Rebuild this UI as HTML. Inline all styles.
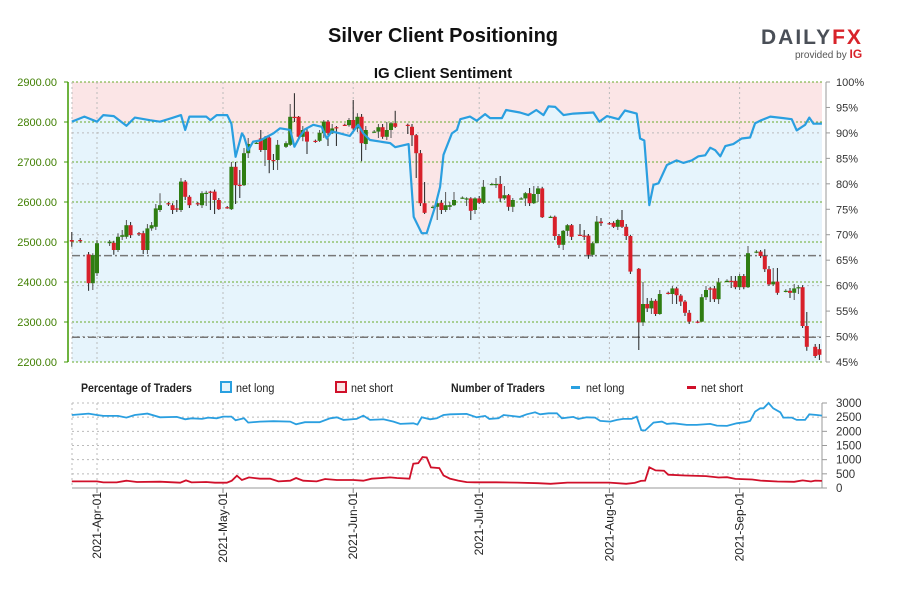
<!DOCTYPE html>
<html><head><meta charset="utf-8">
<style>
html,body{margin:0;padding:0;background:#fff;width:900px;height:600px;overflow:hidden;font-family:"Liberation Sans",sans-serif}
svg text{font-family:"Liberation Sans",sans-serif}
</style></head>
<body>
<svg id="chart" width="900" height="600" viewBox="0 0 900 600" xmlns="http://www.w3.org/2000/svg">
<rect width="900" height="600" fill="#fff"/>
<text x="443" y="42" text-anchor="middle" font-size="20" font-weight="bold" fill="#111">Silver Client Positioning</text>
<text x="443" y="78" text-anchor="middle" font-size="15" font-weight="bold" fill="#111">IG Client Sentiment</text>
<g>
<text x="761" y="44" font-size="21" font-weight="bold" fill="#4a4f57" letter-spacing="2">DAILY<tspan fill="#d8232a">FX</tspan></text>
<text x="795" y="58" font-size="10" fill="#555">provided by <tspan fill="#d8232a" font-weight="bold" font-size="12">IG</tspan></text>
</g>
<g id="main"></g>
<g id="lower"></g>
<g font-size="12" fill="#222">
<text x="81" y="392" font-weight="bold" transform="translate(81 0) scale(0.88 1) translate(-81 0)">Percentage of Traders</text>
<rect x="221" y="382" width="10" height="10" fill="#e5f3fb" stroke="#29a0e0" stroke-width="2"/>
<text x="236" y="392" transform="translate(236 0) scale(0.9 1) translate(-236 0)">net long</text>
<rect x="336" y="382" width="10" height="10" fill="#fbe5e5" stroke="#d0102a" stroke-width="2"/>
<text x="351" y="392" transform="translate(351 0) scale(0.9 1) translate(-351 0)">net short</text>
<text x="451" y="392" font-weight="bold" transform="translate(451 0) scale(0.88 1) translate(-451 0)">Number of Traders</text>
<rect x="571" y="386" width="9" height="3" fill="#29a0e0"/>
<text x="586" y="392" transform="translate(586 0) scale(0.9 1) translate(-586 0)">net long</text>
<rect x="687" y="386" width="9" height="3" fill="#d0102a"/>
<text x="701" y="392" transform="translate(701 0) scale(0.9 1) translate(-701 0)">net short</text>
</g>
</svg>
<script>
const priceTicks=[2900,2800,2700,2600,2500,2400,2300,2200];
const pctTicks=[100,95,90,85,80,75,70,65,60,55,50,45];
const cntTicks=[3000,2500,2000,1500,1000,500,0];
const monthDays=[0,30,61,91,122,153];
const monthLabels=["2021-Apr-01","2021-May-01","2021-Jun-01","2021-Jul-01","2021-Aug-01","2021-Sep-01"];
const refLevels=[2466,2262];
const cDays=[-6,-4,-2,-1,0,3,4,5,6,7,8,10,11,12,13,14,15,17,18,19,20,21,22,24,25,26,27,28,29,31,32,33,34,35,36,38,39,40,41,42,43,45,46,47,48,49,50,52,53,54,55,56,57,59,60,61,62,63,64,66,67,68,69,70,71,74,75,76,77,78,80,81,82,83,84,85,87,88,89,90,91,92,94,95,96,97,98,99,101,102,103,104,105,106,108,109,110,111,112,113,115,116,117,118,119,120,122,123,124,125,126,127,129,130,131,132,133,134,136,137,138,139,140,141,143,144,145,146,147,148,150,151,152,153,154,155,157,158,159,160,161,162,164,165,166,167,168,169,171,172];
const cOpen=[2505,2505,2469,2397,2422,2497,2498,2480,2513,2513,2542,2522,2522,2480,2534,2538,2580,2597,2592,2584,2580,2651,2613,2597,2592,2622,2626,2626,2605,2587,2582,2688,2643,2642,2722,2748,2759,2730,2761,2705,2705,2738,2743,2813,2813,2763,2776,2753,2753,2772,2801,2772,2787,2793,2792,2805,2784,2813,2745,2776,2776,2787,2763,2780,2797,2793,2788,2767,2722,2597,2588,2588,2598,2580,2588,2592,2611,2609,2609,2580,2609,2598,2645,2643,2645,2609,2617,2588,2609,2609,2622,2597,2620,2634,2563,2563,2515,2493,2528,2542,2518,2516,2516,2468,2497,2551,2547,2548,2538,2555,2538,2515,2433,2299,2345,2334,2353,2320,2373,2370,2384,2366,2351,2323,2301,2301,2362,2384,2384,2357,2403,2403,2403,2387,2415,2387,2476,2476,2465,2432,2394,2401,2378,2378,2373,2384,2387,2290,2238,2232];
const cClose=[2501,2503,2397,2467,2497,2501,2480,2513,2517,2542,2517,2520,2480,2534,2542,2584,2592,2594,2580,2583,2651,2613,2592,2595,2622,2623,2625,2605,2582,2586,2688,2642,2642,2722,2745,2748,2730,2761,2705,2704,2743,2747,2813,2812,2763,2780,2751,2752,2773,2801,2772,2784,2786,2792,2805,2784,2813,2747,2780,2776,2787,2763,2780,2797,2788,2792,2767,2722,2597,2573,2588,2597,2580,2592,2592,2605,2611,2609,2578,2609,2598,2638,2645,2645,2609,2617,2588,2605,2609,2622,2597,2620,2634,2562,2563,2515,2493,2528,2542,2513,2517,2515,2468,2497,2551,2547,2546,2538,2555,2538,2515,2426,2299,2345,2334,2353,2320,2370,2372,2384,2367,2351,2323,2301,2300,2362,2380,2383,2357,2399,2403,2402,2387,2415,2387,2472,2476,2465,2432,2394,2401,2373,2378,2373,2384,2387,2290,2238,2215,2218];
const cHigh=[2525,2510,2475,2472,2505,2505,2503,2522,2530,2555,2550,2525,2528,2545,2550,2595,2622,2600,2597,2605,2660,2655,2617,2600,2627,2628,2628,2631,2610,2590,2700,2700,2680,2735,2760,2752,2780,2765,2765,2720,2755,2752,2845,2872,2815,2790,2785,2756,2780,2805,2805,2795,2790,2796,2810,2855,2822,2820,2790,2780,2795,2795,2800,2800,2828,2796,2795,2770,2730,2650,2592,2605,2605,2625,2600,2625,2614,2612,2612,2612,2615,2655,2648,2660,2665,2640,2620,2610,2612,2625,2635,2640,2640,2638,2566,2566,2520,2530,2545,2545,2545,2530,2520,2500,2565,2560,2550,2552,2558,2580,2545,2518,2435,2400,2360,2360,2357,2380,2376,2390,2388,2370,2355,2330,2304,2370,2390,2388,2390,2410,2407,2415,2415,2420,2420,2490,2480,2480,2482,2440,2435,2435,2382,2385,2395,2392,2392,2325,2245,2245];
const cLow=[2488,2498,2378,2380,2415,2490,2468,2475,2505,2508,2510,2515,2470,2470,2528,2530,2575,2590,2570,2575,2575,2605,2585,2590,2585,2590,2580,2570,2580,2583,2580,2595,2610,2640,2710,2745,2725,2690,2672,2680,2680,2735,2740,2800,2760,2752,2720,2748,2750,2760,2740,2770,2740,2790,2788,2780,2775,2702,2730,2773,2760,2758,2755,2760,2785,2770,2740,2660,2590,2570,2584,2555,2570,2575,2580,2590,2608,2590,2555,2570,2595,2595,2642,2635,2600,2605,2578,2575,2606,2590,2590,2595,2600,2560,2560,2505,2485,2480,2515,2505,2515,2505,2458,2463,2497,2540,2543,2535,2530,2535,2505,2420,2230,2290,2325,2320,2315,2318,2369,2345,2345,2340,2315,2295,2297,2300,2355,2350,2350,2345,2399,2385,2382,2380,2382,2385,2472,2460,2425,2390,2390,2368,2374,2360,2355,2370,2285,2228,2210,2205];
const sDays=[-6,-3,0,1.5,4,7,9,12.6,15,17.8,20,21,22,26,27,28.5,31,32,33,34.5,35,36,37.2,38.8,42,43.6,46,47,48.3,49.5,51.5,53.5,54.7,55.9,57.9,60.2,62.2,63.4,65,67.4,69.8,71,74.2,75.4,77.3,78.5,80.5,81.7,82.5,84.5,85.7,86.5,88.8,90.4,92.4,93.6,96.4,97.4,100.7,102.7,104.6,106.3,107.5,109.1,111.1,113.4,118.2,119.6,121.4,124.2,125.7,128.5,129.3,130.3,131.5,132.5,133.7,135.7,138,139.6,141.6,143.2,144.8,146,147.2,148.4,149.6,151.5,153.5,155.5,156.7,157.9,160.3,163.4,165.4,166.6,168.6,169.6,170.6,172.6];
const sLongPct=[92.2,93.2,92.2,93.5,93.3,91.4,93.0,92.5,92.2,92.9,93.5,90.6,93.2,93.2,92.5,93.5,93.5,91.8,85.3,89.9,89.3,86.6,88.3,88.5,89.9,90.9,90.6,87.3,89.3,90.7,91.6,91.2,88.9,90.3,89.9,89.4,91.6,89.9,88.6,88.3,88.0,87.2,87.8,73.5,70.3,70.3,75.5,79.4,85.7,89.9,90.6,92.7,93.2,92.4,93.7,92.9,92.9,94.5,94.0,93.5,94.5,93.5,95.2,95.1,93.5,93.8,94.0,92.2,93.3,92.7,94.4,93.8,88.9,88.5,75.8,79.8,80.1,83.7,84.6,84.1,84.6,85.4,85.6,87.1,86.6,85.4,87.4,87.8,88.9,89.1,91.9,92.4,93.2,92.9,92.7,90.5,91.6,93.0,91.8,91.8];
const nlDays=[-6,-2,0,1.5,5,7,9,12,15,19,21,22.5,25,26.5,28.5,30,32,33,35,36,38.8,42,46,47.4,49.5,53,55.5,57.1,58.7,61.8,63.4,65,68.2,70.6,72.2,75.3,76.3,77.3,79.3,80.9,82.5,84.1,88,90.4,92.4,93.4,95.6,96.8,100.7,102.3,104.3,105.5,107.5,109.5,110.7,113.4,114.6,116.6,118.6,119.8,122.2,123.8,125.3,127.3,128.5,129.6,130.5,132.5,134.5,135.7,137.3,140.4,142.8,146,147.6,150,152.3,154.3,155.5,156.7,157.9,158.7,159.9,161,162.7,163.4,165.4,166.6,168.6,169.6,171.4,172.6];
const nlCount=[2578,2625,2578,2543,2543,2485,2578,2625,2496,2508,2426,2461,2438,2485,2461,2520,2520,2391,2461,2309,2344,2356,2344,2250,2321,2321,2461,2496,2403,2438,2555,2403,2426,2344,2262,2285,2239,2496,2426,2461,2578,2602,2614,2496,2543,2438,2461,2578,2508,2602,2672,2602,2637,2637,2461,2508,2438,2496,2485,2367,2344,2403,2438,2438,2520,2039,2028,2309,2344,2262,2285,2227,2227,2262,2203,2192,2285,2321,2367,2696,2813,2813,3000,2813,2672,2485,2485,2403,2403,2602,2578,2555];
const nsDays=[-6,0,1.5,4.7,7,9.5,15,19.8,21.2,22.5,26,28.1,30.9,32.1,33.3,34.5,36.2,38.8,41.2,43.2,46,47.4,49.1,52.3,54.3,57.1,61,63.4,65.4,69.8,71.4,74.4,75.3,76.5,77.5,78.5,79.5,81.5,82.5,84,86,88,90,95,100,105,108,112,118,122,126,128,129.5,130.5,131.5,133,135,136,140,145,148,150,152,156,158,162,166,168,170,171,172.6];
const nsCount=[234,234,199,199,258,211,223,188,270,199,211,188,188,258,434,281,375,328,328,234,258,352,258,234,316,281,281,258,328,375,352,328,856,879,1090,1078,727,703,445,330,260,210,200,200,190,170,150,190,190,190,150,180,250,260,730,620,610,470,440,420,370,380,320,300,260,230,220,270,230,260,250];

const NS='http://www.w3.org/2000/svg';
const X0=72,X1=822,Y0=82,Y1=362,LY0=403,LY1=488;
function xDay(d){return 97+d*4.2;}
function yPrice(p){return Y0+(2900-p)*(Y1-Y0)/700;}
function yPct(p){return Y0+(100-p)*(Y1-Y0)/55;}
function yCnt(v){return LY1-v*(LY1-LY0)/3000;}
function mk(tag,attrs,parent){const e=document.createElementNS(NS,tag);for(const k in attrs)e.setAttribute(k,attrs[k]);parent.appendChild(e);return e;}
const main=document.getElementById('main'),lower=document.getElementById('lower');

// backgrounds
let bg=mk('rect',{x:X0,y:Y0,width:X1-X0,height:Y1-Y0,fill:'#fbe5e6'},main);


let pts=sDays.map((d,i)=>xDay(d).toFixed(1)+','+yPct(sLongPct[i]).toFixed(1));
let area=mk('polygon',{points:pts.join(' ')+' '+xDay(sDays[sDays.length-1]).toFixed(1)+','+Y1+' '+xDay(sDays[0]).toFixed(1)+','+Y1,fill:'#e6f4fc'},main);



// grid
pctTicks.forEach(p=>{if(p%10===0&&p<100&&p>45){let l=mk('line',{x1:X0,x2:X1,y1:yPct(p),y2:yPct(p),stroke:'#bbb','stroke-dasharray':'2,3','stroke-width':1},main);

}});
priceTicks.forEach(p=>{let l=mk('line',{x1:X0,x2:X1,y1:yPrice(p),y2:yPrice(p),stroke:'#6aaa2a','stroke-dasharray':'2,2','stroke-width':1},main);


let t=mk('text',{x:57,y:yPrice(p)+4,'text-anchor':'end','font-size':11,fill:'#3f7f00'},main);t.textContent=p.toFixed(2);


mk('line',{x1:64,x2:68,y1:yPrice(p),y2:yPrice(p),stroke:'#3f9a00'},main);});
monthDays.forEach((d,i)=>{let l=mk('line',{x1:xDay(d),x2:xDay(d),y1:Y0,y2:Y1,stroke:'#bbb','stroke-dasharray':'2,3'},main);


let l2=mk('line',{x1:xDay(d),x2:xDay(d),y1:LY0,y2:LY1,stroke:'#bbb','stroke-dasharray':'2,3'},lower);


mk('line',{x1:xDay(d),x2:xDay(d),y1:LY1,y2:LY1+5,stroke:'#888'},lower);
let t=mk('text',{x:0,y:0,'text-anchor':'end','font-size':12,fill:'#222',transform:'translate('+(xDay(d)+4)+',492) rotate(-90)'},lower);t.textContent=monthLabels[i];

});
mk('line',{x1:X0,x2:X0,y1:Y0,y2:Y1,stroke:'#bbb','stroke-dasharray':'2,3'},main);
refLevels.forEach(p=>{let l=mk('line',{x1:X0,x2:X1,y1:yPrice(p),y2:yPrice(p),stroke:'#777','stroke-dasharray':'8,3,2,3','stroke-width':1.5},main);

});
// axes
let la=mk('line',{x1:68,x2:68,y1:Y0,y2:Y1,stroke:'#3f9a00','stroke-width':1.5},main);


let ra=mk('line',{x1:826,x2:826,y1:Y0,y2:Y1,stroke:'#999'},main);


pctTicks.forEach(p=>{mk('line',{x1:826,x2:830,y1:yPct(p),y2:yPct(p),stroke:'#999'},main);
let t=mk('text',{x:836,y:yPct(p)+4,'font-size':11,fill:'#333'},main);t.textContent=p+'%';

});

// candles
cDays.forEach((d,i)=>{const o=cOpen[i],c=cClose[i],x=xDay(d);const up=c>=o;
let g=mk('g',{},main);


mk('line',{x1:x,x2:x,y1:yPrice(cHigh[i]),y2:yPrice(cLow[i]),stroke:up?'#555':'#222','stroke-width':1},g);
const yt=yPrice(Math.max(o,c)),yb=yPrice(Math.min(o,c));
mk('rect',{x:x-2,y:yt,width:4,height:Math.max(1.2,yb-yt),fill:up?'#2f7d12':'#d8202a'},g);});

// sentiment line
let sl=mk('polyline',{points:pts.join(' '),fill:'none',stroke:'#2a9fe0','stroke-width':2.2,'stroke-linejoin':'round'},main);



// lower panel
cntTicks.forEach(v=>{let l=mk('line',{x1:X0,x2:X1,y1:yCnt(v),y2:yCnt(v),stroke:v===0?'#999':'#bbb','stroke-dasharray':v===0?'':'2,3'},lower);


mk('line',{x1:822,x2:827,y1:yCnt(v),y2:yCnt(v),stroke:'#999'},lower);
let t=mk('text',{x:836,y:yCnt(v)+4,'font-size':11.5,fill:'#333'},lower);t.textContent=v;

});
mk('line',{x1:X0,x2:X0,y1:LY0,y2:LY1,stroke:'#bbb','stroke-dasharray':'2,3'},lower);
mk('line',{x1:822,x2:822,y1:LY0,y2:LY1,stroke:'#999'},lower);
let nl=mk('polyline',{points:nlDays.map((d,i)=>xDay(d).toFixed(1)+','+yCnt(nlCount[i]).toFixed(1)).join(' '),fill:'none',stroke:'#2a9fe0','stroke-width':1.8},lower);


let ns=mk('polyline',{points:nsDays.map((d,i)=>xDay(d).toFixed(1)+','+yCnt(nsCount[i]).toFixed(1)).join(' '),fill:'none',stroke:'#d0102a','stroke-width':1.8},lower);


</script>
</body></html>
